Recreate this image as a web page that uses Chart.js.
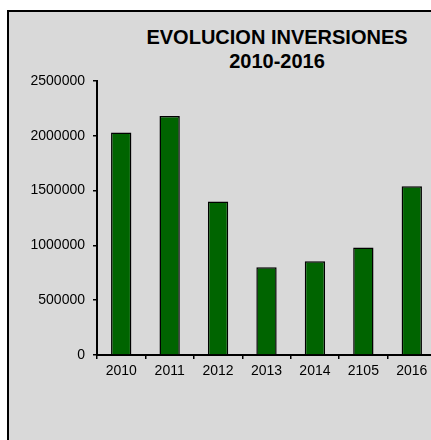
<!DOCTYPE html>
<html>
<head>
  <title>Evolucion Inversiones</title>
  <script src="https://cdn.jsdelivr.net/npm/chart.js"></script>
  <style>
    body {
      margin: 0;
      background: #fff;
      overflow: hidden;
      width: 431px;
      height: 440px;
      position: relative;
    }
    .panel {
      position: absolute;
      left: 7px;
      top: 10px;
      width: 600px;
      height: 600px;
      background: #d9d9d9;
      border: 2px solid #000;
    }
    .title {
      position: absolute;
      left: 0;
      top: 26px;
      width: 554px;
      text-align: center;
      font: bold 20px Arial, "Liberation Sans", sans-serif;
      line-height: 23.5px;
      color: #000;
    }
    #chart {
      position: absolute;
      left: 0;
      top: 0;
    }
  </style>
</head>
<body>
  <div class="panel"></div>
  <div class="title">EVOLUCION INVERSIONES<br>2010-2016</div>
  <canvas id="chart" width="440" height="460"></canvas>

  <script>
    // Datos del grafico
    const categories = ['2010', '2011', '2012', '2013', '2014', '2105', '2016'];
    const inversiones = [2030000, 2180000, 1400000, 800000, 855000, 980000, 1540000];
    const yTicks = [0, 500000, 1000000, 1500000, 2000000, 2500000];

    const tickFont = { family: 'Arial, "Liberation Sans", sans-serif', size: 14 };

    new Chart(document.getElementById('chart').getContext('2d'), {
      type: 'bar',
      data: {
        labels: categories,
        datasets: [{
          label: 'Inversiones',
          data: inversiones,
          backgroundColor: '#006400',
          borderColor: '#000',
          borderWidth: 1.5,
          categoryPercentage: 1,
          barPercentage: 0.42
        }]
      },
      options: {
        responsive: false,
        animation: false,
        layout: { padding: { left: 0, right: 4, top: 81, bottom: 65 } },
        plugins: {
          legend: { display: false },
          title: { display: false },
          tooltip: { enabled: false }
        },
        scales: {
          x: {
            afterFit: scale => { scale.height = 40; },
            grid: { drawOnChartArea: false, tickLength: 4, color: '#000', lineWidth: 1.5 },
            border: { color: '#000', width: 2 },
            ticks: { color: '#000', font: tickFont, padding: 4, maxRotation: 0, autoSkip: false }
          },
          y: {
            min: 0,
            max: 2500000,
            afterFit: scale => { scale.width = 97; },
            afterBuildTicks: scale => { scale.ticks = yTicks.map(v => ({ value: v })); },
            grid: { drawOnChartArea: false, tickLength: 4, color: '#000', lineWidth: 1.5 },
            border: { color: '#000', width: 2 },
            ticks: { color: '#000', font: tickFont, padding: 8, callback: v => String(v) }
          }
        }
      }
    });
  </script>
</body>
</html>
